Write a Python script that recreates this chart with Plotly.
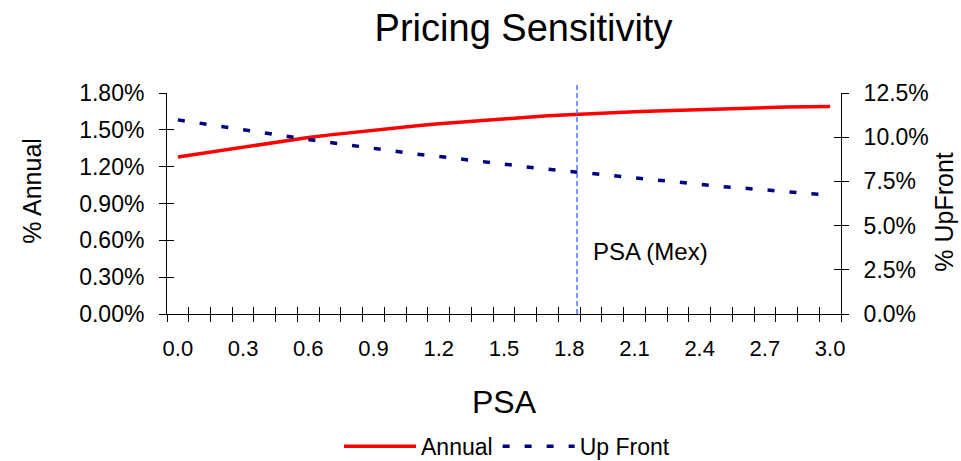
import plotly.graph_objects as go

# PSA multiples (category axis) and the two pricing series
psa = [round(0.1 * i, 1) for i in range(31)]
annual_pct = [1.278, 1.305, 1.332, 1.356, 1.383, 1.411, 1.438, 1.459, 1.478, 1.502,
              1.516, 1.533, 1.549, 1.563, 1.576, 1.589, 1.603, 1.614, 1.622, 1.632,
              1.642, 1.648, 1.654, 1.660, 1.666, 1.671, 1.675, 1.680, 1.685, 1.688,
              1.690]
upfront_pct = [10.98, 10.79, 10.60, 10.41, 10.22, 10.03, 9.87, 9.70, 9.53, 9.36,
               9.19, 9.04, 8.91, 8.78, 8.62, 8.48, 8.32, 8.17, 8.06, 7.95,
               7.82, 7.70, 7.57, 7.46, 7.33, 7.21, 7.12, 7.01, 6.91, 6.82,
               6.72]
psa_mex = 1.836

x_label_vals = psa[::3]
x_label_text = [f"{v:.1f}" for v in x_label_vals]
left_ticks = [0.0, 0.3, 0.6, 0.9, 1.2, 1.5, 1.8]
left_text = [f"{v:.2f}%" for v in left_ticks]
right_ticks = [0.0, 2.5, 5.0, 7.5, 10.0, 12.5]
right_text = [f"{v:.1f}%" for v in right_ticks]

# tick marks sit between categories
half = 0.05
boundaries = [round(p - half, 2) for p in psa] + [round(psa[-1] + half, 2)]
x_range = [boundaries[0], boundaries[-1]]
left_range = [0, 1.8]
right_range = [0, 12.5]

FONT = "Liberation Sans, Arial, sans-serif"

fig = go.Figure()
fig.add_trace(go.Scatter(
    x=psa, y=annual_pct, name="Annual", mode="lines",
    line=dict(color="#FF0000", width=3.5),
    xaxis="x", yaxis="y",
))
fig.add_trace(go.Scatter(
    x=psa, y=upfront_pct, name="Up Front", mode="lines",
    line=dict(color="#000080", width=3.5, dash="7px,15px"),
    xaxis="x", yaxis="y2",
))

# transparent carriers so the tick-only overlay axes get drawn
for xa, ya, vals in (("x3", "y3", annual_pct), ("x4", "y4", upfront_pct)):
    fig.add_trace(go.Scatter(
        x=psa, y=vals, mode="lines", opacity=0, showlegend=False,
        hoverinfo="skip", line=dict(width=0), xaxis=xa, yaxis=ya,
    ))

fig.add_shape(type="line", xref="x", yref="paper",
              x0=psa_mex, x1=psa_mex, y0=0, y1=1.05,
              line=dict(color="#4477FF", width=1.5, dash="5px,3px"))
fig.add_annotation(x=psa_mex, y=0.51, xref="x", yref="y",
                   text="PSA (Mex)", showarrow=False,
                   xanchor="left", yanchor="middle", xshift=14,
                   font=dict(size=24, color="#000000", family=FONT))

# vertical axis titles
fig.add_annotation(x=32, y=461 - 191, xref="paper", yref="paper",
                   text="% Annual", textangle=-90, showarrow=False,
                   xanchor="center", yanchor="middle",
                   font=dict(size=25, family=FONT, color="#000000"))
fig.add_annotation(x=944, y=461 - 212, xref="paper", yref="paper",
                   text="% UpFront", textangle=-90, showarrow=False,
                   xanchor="center", yanchor="middle",
                   font=dict(size=25, family=FONT, color="#000000"))
# convert the two pixel positions above into paper fractions
plot_l, plot_r, plot_t, plot_b = 167, 841, 93, 314.5
for ann in fig.layout.annotations[1:]:
    ann.x = (ann.x - plot_l) / (plot_r - plot_l)
    ann.y = (ann.y - (461 - plot_b)) / (plot_b - plot_t)

axis_common = dict(showgrid=False, zeroline=False, linecolor="#000000",
                   linewidth=1, tickcolor="#000000", tickwidth=1)

fig.update_layout(
    width=961, height=461,
    margin=dict(l=plot_l, r=961 - plot_r, t=plot_t, b=461 - plot_b,
                autoexpand=False),
    paper_bgcolor="#FFFFFF", plot_bgcolor="#FFFFFF",
    font=dict(family=FONT, size=22, color="#000000"),
    title=dict(text="Pricing Sensitivity", x=523.5 / 961, xanchor="center",
               y=1 - 27.5 / 461, yanchor="middle", xref="container",
               yref="container", font=dict(size=38)),
    xaxis=dict(range=x_range, tickmode="array", tickvals=x_label_vals,
               ticktext=x_label_text, ticks="", showline=True,
               ticklabelstandoff=15,
               title=dict(text="PSA", font=dict(size=32), standoff=30),
               anchor="y", **axis_common),
    xaxis3=dict(range=x_range, overlaying="x", anchor="y3", tickmode="array",
                tickvals=boundaries, ticks="outside", ticklen=7,
                showticklabels=False, showline=False, **axis_common),
    xaxis4=dict(range=x_range, overlaying="x", anchor="y4", tickmode="array",
                tickvals=boundaries, ticks="inside", ticklen=7,
                showticklabels=False, showline=False, **axis_common),
    yaxis=dict(range=left_range, tickmode="array", tickvals=left_ticks,
               ticktext=left_text, ticks="outside", ticklen=7, showline=True,
               ticklabelstandoff=10, tickfont=dict(size=23),
               **axis_common),
    yaxis3=dict(range=left_range, overlaying="y", side="left", anchor="x3",
                tickmode="array", tickvals=left_ticks, ticks="inside",
                ticklen=7, showticklabels=False, showline=False, **axis_common),
    yaxis2=dict(range=right_range, overlaying="y", side="right", anchor="x",
                tickmode="array", tickvals=right_ticks, ticktext=right_text,
                ticks="outside", ticklen=7, showline=True,
                ticklabelstandoff=10, tickfont=dict(size=23),
                **axis_common),
    yaxis4=dict(range=right_range, overlaying="y", side="right", anchor="x4",
                tickmode="array", tickvals=right_ticks, ticks="inside",
                ticklen=7, showticklabels=False, showline=False, **axis_common),
    showlegend=True,
    legend=dict(orientation="h", x=(507 - plot_l) / (plot_r - plot_l),
                xanchor="center",
                y=(plot_b - 447) / (plot_b - plot_t), yanchor="middle",
                font=dict(size=23), itemwidth=72, bgcolor="rgba(0,0,0,0)"),
)

fig.write_html("out.html")
